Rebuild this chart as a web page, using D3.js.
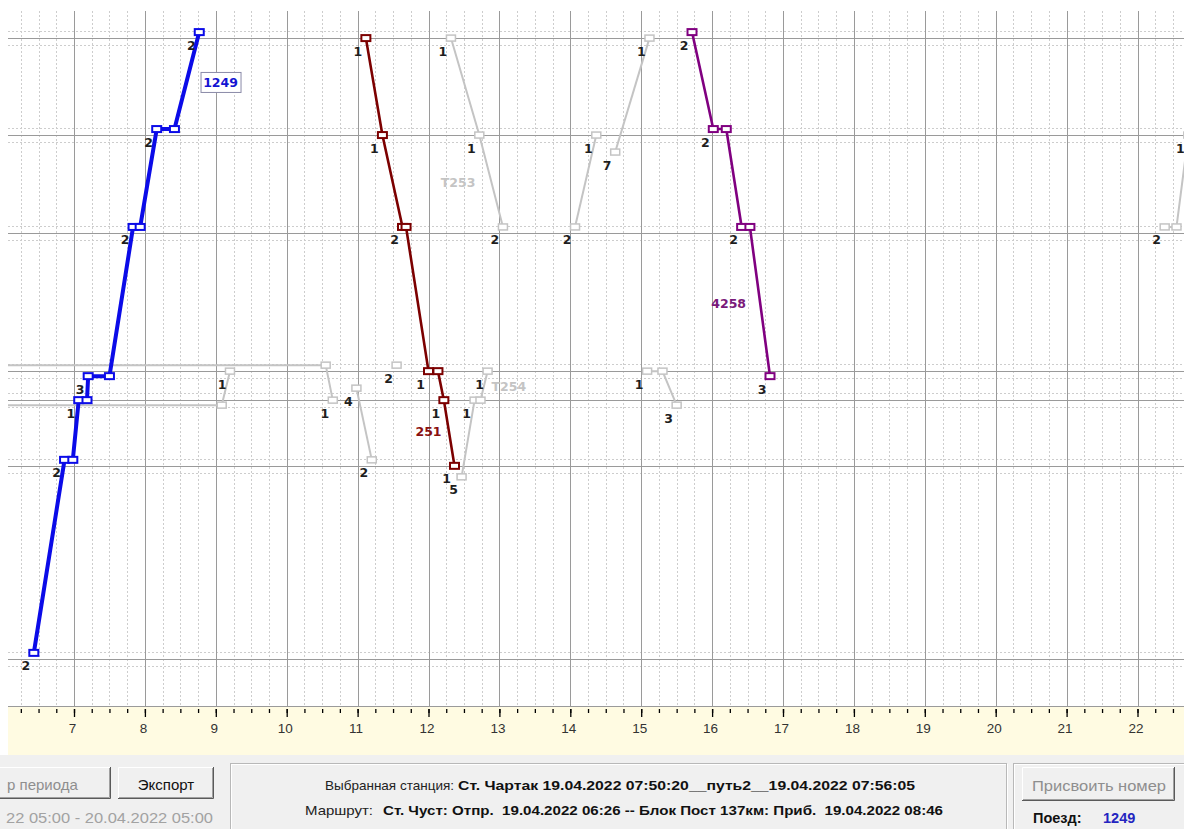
<!DOCTYPE html>
<html><head><meta charset="utf-8">
<script src="https://cdn.jsdelivr.net/npm/d3@7"></script>
<style>
html,body{margin:0;padding:0;background:#f0f0f0;overflow:hidden;}
svg{display:block;}
text{white-space:pre;}
</style></head><body>
<svg id="c" width="1184" height="829"></svg>
<script>
// ---------------- DATA ----------------
const hourTicks = [7,8,9,10,11,12,13,14,15,16,17,18,19,20,21,22];
const stationNames = ["Ст. Чуст","43км","57км","64км","Ст. Чартак","116км","Блок Пост 137км"];
const stationKm    = [0, 42.6, 57.1, 63.5, 94.0, 115.6, 137.0];

// [time, station km, track]
const train1249 = [["06:26",0,2],["06:52",42.6,2],["06:59",42.6,2],["07:04",57.1,1],["07:11",57.1,1],
  ["07:12",63.5,3],["07:30",63.5,3],["07:50",94.0,2],["07:56",94.0,2],["08:10",115.6,2],["08:25",115.6,2],["08:46",137.0,2]];
const train251 = [["11:07",137.0,1],["11:21",115.6,1],["11:38",94.0,2],["11:41",94.0,2],["12:00",63.5,1],
  ["12:08",63.5,1],["12:13",57.1,1],["12:22",42.6,1]];
const train4258 = [["15:43",137.0,2],["16:01",115.6,2],["16:12",115.6,2],["16:25",94.0,2],["16:32",94.0,2],["16:49",63.5,3]];
const trainT253 = [["12:19",137.0,1],["12:43",115.6,1],["13:03",94.0,2]];
const trainT254 = [["12:28",42.6,5],["12:39",57.1,1],["12:44",57.1,1],["12:50",63.5,1]];
const greyA = [["05:00",63.5,2],["10:33",63.5,2],["10:39",57.1,1]];
const greyB = [["05:00",57.1,3],["09:05",57.1,3],["09:12",63.5,1]];
const greyC = [["10:59",57.1,4],["11:12",42.6,2]];
const greyD = [["11:33",63.5,2]];
const greyE = [["14:04",94.0,2],["14:22",115.6,1]];
const greyF = [["14:38",115.6,7],["15:07",137.0,1]];
const greyG = [["15:05",63.5,1],["15:18",63.5,1],["15:30",57.1,3]];
const greyH = [["22:23",94.0,2],["22:33",94.0,2],["22:43",115.6,1]];

// train name labels: [name, time, km]
const trainLabels = [["1249","09:04",127.1],["251","12:00",50.1],["4258","16:14",78.5],["T253","12:25",105.2],["T254","13:08",60.2]];

const selectedStation = "Ст. Чартак 19.04.2022 07:50:20__путь2__19.04.2022 07:56:05";
const routeText = "Ст. Чуст: Отпр.  19.04.2022 06:26 -- Блок Пост 137км: Приб.  19.04.2022 08:46";
const periodText = "22 05:00 - 20.04.2022 05:00";
const selectedTrain = "1249";

// ---------------- RENDER ----------------
const svg = d3.select("#c");
const P = {l:8, t:11, r:1184, b:706};
const t = s => { const [h,m] = s.split(":").map(Number); return new Date(2022,3,19,h,m); };
const x = d3.scaleTime().domain([t("06:00"), t("23:00")]).range([3.1, 1208.4]);
const y = d3.scaleLinear().domain([-10.4, 143.2]).range([706, 10]);
const trackOff = {1:0,2:-6,3:5,4:-12,5:11,6:-17,7:17};

svg.append("rect").attr("x",0).attr("y",0).attr("width",1184).attr("height",755).attr("fill","#ffffff");
svg.append("defs").append("clipPath").attr("id","pc").append("rect")
  .attr("x",P.l).attr("y",P.t).attr("width",P.r-P.l).attr("height",P.b-P.t);
const g = svg.append("g").attr("clip-path","url(#pc)");

// quarter-hour grid
const quarters = d3.timeMinute.every(15).range(t("06:00"), t("23:01"));
g.selectAll("line.q").data(quarters.filter(d=>d.getMinutes()!==0)).join("line")
  .attr("x1",d=>Math.round(x(d))+0.5).attr("x2",d=>Math.round(x(d))+0.5).attr("y1",P.t).attr("y2",P.b)
  .attr("stroke","#cdcdcd").attr("stroke-dasharray","2,2");
// track dotted lines
const dots = [];
stationKm.forEach(k=>{dots.push(y(k)-7); dots.push(y(k)+7);});
g.selectAll("line.d").data(dots).join("line")
  .attr("x1",P.l).attr("x2",P.r).attr("y1",d=>Math.round(d)+0.5).attr("y2",d=>Math.round(d)+0.5)
  .attr("stroke","#cdcdcd").attr("stroke-dasharray","2,2");
// hour lines
g.selectAll("line.h").data(quarters.filter(d=>d.getMinutes()===0)).join("line")
  .attr("x1",d=>Math.round(x(d))+0.5).attr("x2",d=>Math.round(x(d))+0.5).attr("y1",P.t).attr("y2",P.b)
  .attr("stroke","#9a9a9a");
// station lines
g.selectAll("line.s").data(stationKm).join("line")
  .attr("x1",P.l).attr("x2",P.r).attr("y1",d=>Math.round(y(d))+0.5).attr("y2",d=>Math.round(y(d))+0.5)
  .attr("stroke","#9a9a9a");
svg.append("line").attr("x1",P.l).attr("x2",P.r).attr("y1",P.b+0.5).attr("y2",P.b+0.5).attr("stroke","#9a9a9a");

const GREY = {color:"#c4c4c4", w:2, mw:1.5};
const trains = [
  {d:greyA, s:GREY},{d:greyB, s:GREY},{d:greyC, s:GREY},{d:greyD, s:GREY},{d:greyE, s:GREY},
  {d:greyF, s:GREY},{d:greyG, s:GREY},{d:greyH, s:GREY},{d:trainT253, s:GREY},{d:trainT254, s:GREY},
  {d:train251, s:{color:"#7c0000", w:2.6, mw:2}},
  {d:train4258, s:{color:"#800080", w:2.6, mw:2}},
  {d:train1249, s:{color:"#0b0be8", w:4, mw:2}}
];
const px = p => x(t(p[0]));
const py = p => y(p[1]) + trackOff[p[2]];
const line = d3.line().x(px).y(py);

trains.forEach(tr=>{
  if (tr.d.length>1)
    g.append("path").attr("d",line(tr.d)).attr("fill","none").attr("stroke",tr.s.color)
      .attr("stroke-width",tr.s.w).attr("stroke-linejoin","round");
});
trains.forEach(tr=>{
  const vis = tr.d.filter(d=>px(d) > P.l - 10);
  g.selectAll(null).data(vis).join("rect")
    .attr("x",d=>px(d)-4.5).attr("y",d=>py(d)-3).attr("width",9).attr("height",6)
    .attr("fill","#fff").attr("stroke",tr.s.color).attr("stroke-width",tr.s.mw);
  const lab = tr.d.filter((d,i)=> (i===0 || !(tr.d[i-1][1]===d[1] && tr.d[i-1][2]===d[2])) && px(d)-14 > P.l && px(d)-14 < P.r);
  g.selectAll(null).data(lab).join("text")
    .attr("x",d=>px(d)-8).attr("y",d=>py(d)+17.5).attr("text-anchor","middle")
    .attr("font-family","DejaVu Sans, Verdana, sans-serif").attr("font-weight","bold").attr("font-size",12.5)
    .attr("fill","#1e1e1e").text(d=>d[2]);
});

const labelColor = {"1249":"#1414d2","251":"#8a1010","4258":"#7a1a7a","T253":"#c4c4c4","T254":"#c4c4c4"};
trainLabels.forEach(([n,tm,k])=>{
  const cx = x(t(tm)), cy = y(k);
  if (n===selectedTrain) {
    g.append("rect").attr("x",cx-19.5).attr("y",cy-10.5).attr("width",40).attr("height",20)
      .attr("fill","#fff").attr("stroke","#8a8aa8").attr("stroke-width",1);
  }
  g.append("text").attr("x",cx).attr("y",cy+4.5).attr("text-anchor","middle")
    .attr("font-family","DejaVu Sans, Verdana, sans-serif").attr("font-weight","bold").attr("font-size",12.5)
    .attr("fill",labelColor[n]).text(n);
});

// axis band
svg.append("rect").attr("x",P.l).attr("y",707).attr("width",P.r-P.l).attr("height",48).attr("fill","#fffbe2");
svg.append("defs").append("clipPath").attr("id","ac").append("rect")
  .attr("x",P.l).attr("y",700).attr("width",P.r-P.l).attr("height",60);
const ax = svg.append("g").attr("clip-path","url(#ac)");
const minorG = ax.append("g").attr("transform","translate(0,709)")
  .call(d3.axisBottom(x).tickValues(quarters).tickSize(4).tickFormat(""));
const majorDates = hourTicks.map(h=>new Date(2022,3,19,h,0));
const majorG = ax.append("g").attr("transform","translate(0,709)")
  .call(d3.axisBottom(x).tickValues(majorDates).tickSize(8).tickFormat(d3.timeFormat("%-H")));
[minorG, majorG].forEach(a=>{
  a.select(".domain").remove();
  a.selectAll(".tick line").attr("stroke","#000").attr("stroke-width",1.3);
});
majorG.selectAll(".tick text").attr("y",14).attr("x",-2).attr("fill","#333")
  .attr("font-family","Liberation Sans, Arial, sans-serif").attr("font-size",13.5);

// bottom panel
const panel = svg.append("g").attr("font-family","Liberation Sans, Arial, sans-serif");
function button(x0,y0,w,h){
  panel.append("rect").attr("x",x0).attr("y",y0).attr("width",w).attr("height",h).attr("fill","#f0f0f0");
  panel.append("path").attr("d",`M${x0+0.5},${y0+h} V${y0+0.5} H${x0+w}`).attr("stroke","#ffffff").attr("fill","none");
  panel.append("path").attr("d",`M${x0},${y0+h-0.5} H${x0+w-0.5} V${y0}`).attr("stroke","#5a5a5a").attr("fill","none");
  panel.append("path").attr("d",`M${x0+1},${y0+h-1.5} H${x0+w-1.5} V${y0+1}`).attr("stroke","#a0a0a0").attr("fill","none");
}
button(-20,767,131,32);
button(118,767,96,32);
panel.append("text").attr("x",7).attr("y",790).attr("font-size",15).attr("fill","#8e8e8e").text("р периода");
panel.append("text").attr("x",166).attr("y",790).attr("text-anchor","middle").attr("font-size",15).attr("fill","#111").text("Экспорт");
panel.append("text").attr("x",6).attr("y",823).attr("font-size",15).attr("fill","#a2a2a2")
  .attr("textLength",207).attr("lengthAdjust","spacingAndGlyphs").text(periodText);

function groupBox(x0,y0,w,h){
  panel.append("rect").attr("x",x0+1.5).attr("y",y0+1.5).attr("width",w).attr("height",h).attr("fill","none").attr("stroke","#ffffff");
  panel.append("rect").attr("x",x0+0.5).attr("y",y0+0.5).attr("width",w).attr("height",h).attr("fill","none").attr("stroke","#b8b8b8");
}
groupBox(230,763,776,90);
groupBox(1013,763,200,90);

panel.append("text").attr("x",325).attr("y",790).attr("font-size",13).attr("fill","#222")
  .attr("textLength",129).attr("lengthAdjust","spacingAndGlyphs").text("Выбранная станция:");
panel.append("text").attr("x",458).attr("y",790).attr("font-size",13.5).attr("font-weight","bold").attr("fill","#111")
  .attr("textLength",457).attr("lengthAdjust","spacingAndGlyphs").text(selectedStation);
panel.append("text").attr("x",305).attr("y",815).attr("font-size",13).attr("fill","#222")
  .attr("textLength",68).attr("lengthAdjust","spacingAndGlyphs").text("Маршрут:");
panel.append("text").attr("x",383).attr("y",815).attr("font-size",13.5).attr("font-weight","bold").attr("fill","#111")
  .attr("textLength",560).attr("lengthAdjust","spacingAndGlyphs").text(routeText);

button(1022,767,153,34);
panel.append("text").attr("x",1099).attr("y",791).attr("text-anchor","middle").attr("font-size",15).attr("fill","#8e8e8e")
  .attr("textLength",134).attr("lengthAdjust","spacingAndGlyphs").text("Присвоить номер");
panel.append("text").attr("x",1033).attr("y",823).attr("font-size",14.5).attr("font-weight","bold").attr("fill","#111").text("Поезд:");
panel.append("text").attr("x",1103).attr("y",823).attr("font-size",14.5).attr("font-weight","bold").attr("fill","#2424c0").text(selectedTrain);
</script>
</body></html>
